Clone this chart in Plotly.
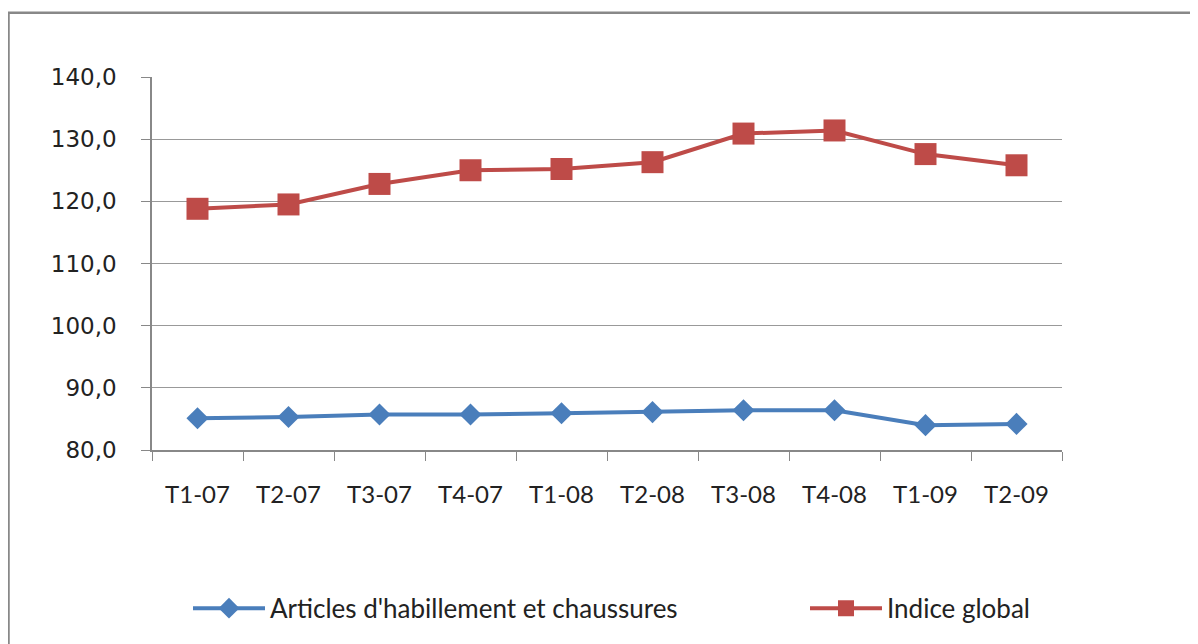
import plotly.graph_objects as go

categories = ["T1-07", "T2-07", "T3-07", "T4-07", "T1-08", "T2-08", "T3-08", "T4-08", "T1-09", "T2-09"]
habillement = [85.1, 85.3, 85.7, 85.7, 85.9, 86.1, 86.4, 86.4, 84.0, 84.2]
indice_global = [118.8, 119.5, 122.8, 125.0, 125.2, 126.3, 130.9, 131.4, 127.6, 125.8]
y_tickvals = [80, 90, 100, 110, 120, 130, 140]
y_ticktext = ["80,0", "90,0", "100,0", "110,0", "120,0", "130,0", "140,0"]

# page body has an 8px margin, so the figure is drawn 8px lower/right
W, H = 1190, 636
L, T, PW, PH = 144, 69, 910, 377

fig = go.Figure()
fig.add_trace(go.Scatter(
    x=categories, y=habillement, mode="lines+markers",
    name="Articles d'habillement et chaussures",
    line=dict(color="#4A7EBB", width=4),
    marker=dict(symbol="diamond", size=17, color="#4A7EBB"),
    legend="legend",
))
fig.add_trace(go.Scatter(
    x=categories, y=indice_global, mode="lines+markers",
    name="Indice global",
    line=dict(color="#BE4B48", width=4),
    marker=dict(symbol="square", size=22, color="#BE4B48"),
    legend="legend2",
))

leg_y = (T + PH - 606) / PH
leg_common = dict(orientation="h", yanchor="middle", y=leg_y, xanchor="left",
                  font=dict(family="Lato", size=26, color="#222"),
                  itemwidth=72, bgcolor="rgba(0,0,0,0)")

fig.update_layout(
    width=W, height=H,
    margin=dict(l=L, r=W - L - PW, t=T, b=H - T - PH),
    paper_bgcolor="white", plot_bgcolor="white",
    showlegend=True,
    legend=dict(x=(180 - L) / PW, **leg_common),
    legend2=dict(x=(797 - L) / PW, **leg_common),
    shapes=[dict(type="rect", xref="paper", yref="paper",
                 x0=(0.5 - L) / PW, x1=1.3, y0=-0.8, y1=(T + PH - 4) / PH,
                 line=dict(color="#888888", width=2.5), layer="below")],
)
fig.update_xaxes(
    type="category", range=[-0.5, 9.5],
    showline=True, linecolor="#888888", linewidth=1.5,
    ticks="outside", tickson="boundaries", ticklen=9, tickcolor="#888888",
    showgrid=False, ticklabelstandoff=22,
    tickfont=dict(family="Lato", size=24, color="#222"),
)
fig.update_yaxes(
    range=[80, 140], tickvals=y_tickvals, ticktext=y_ticktext,
    showline=True, linecolor="#888888", linewidth=1.5,
    ticks="outside", ticklen=9, tickcolor="#888888",
    showgrid=True, gridcolor="#999999", gridwidth=1.2,
    zeroline=False, ticklabelstandoff=20,
    tickfont=dict(family="DejaVu Sans", size=23, color="#222"),
)

fig.write_html("out.html")
